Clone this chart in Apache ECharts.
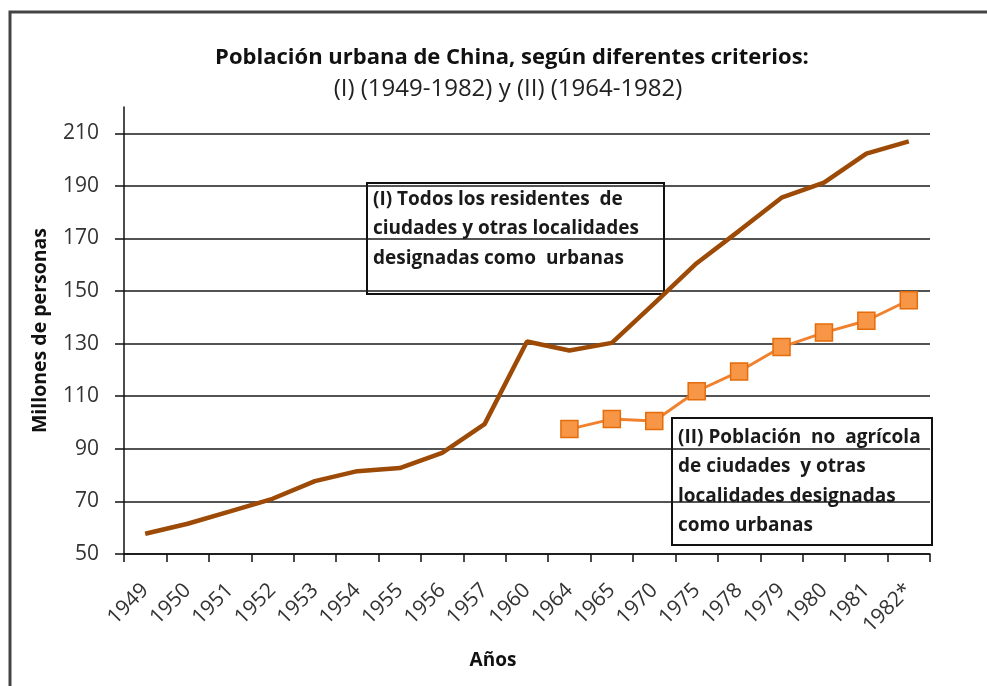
<!DOCTYPE html>
<html>
<head>
<meta charset="utf-8">
<script src="https://cdn.jsdelivr.net/npm/echarts@6/dist/echarts.min.js"></script>
<style>
html,body{margin:0;padding:0;background:#fff;}
#chart{width:987px;height:686px;}
</style>
</head>
<body>
<div id="chart"></div>
<script>
// años del eje x
var anios = ['1949','1950','1951','1952','1953','1954','1955','1956','1957','1960',
    '1964','1965','1970','1975','1978','1979','1980','1981','1982*'];
// (I) todos los residentes urbanos, millones
var serieI = [57.7, 61.5, 66.2, 71.0, 77.7, 81.5, 82.7, 88.5, 99.4, 130.8,
    127.4, 130.3, 145.3, 160.6, 172.9, 185.5, 191.2, 202.3, 206.9];
// (II) poblacion no agricola, desde 1964
var serieII = ['-','-','-','-','-','-','-','-','-','-',
    97.5, 101.3, 100.6, 111.9, 119.4, 128.7, 134.2, 138.7, 146.5];
// marcas del eje y
var marcasY = [50, 70, 90, 110, 130, 150, 170, 190, 210];

var textoI = ['(I) Todos los residentes  de', 'ciudades y otras localidades', 'designadas como  urbanas'];
var textoII = ['(II) Población  no  agrícola', 'de ciudades  y otras', 'localidades designadas', 'como urbanas'];

var fuente = 'Open Sans, Noto Sans, sans-serif';
var myChart = echarts.init(document.getElementById('chart'));

function caja(x, y, w, h, dy, lineas) {
    var hijos = [{
        type: 'rect',
        shape: {x: 0, y: 0, width: w, height: h},
        style: {fill: '#fff', stroke: '#111', lineWidth: 2}
    }];
    lineas.forEach(function (t, i) {
        hijos.push({
            type: 'text',
            x: 6, y: dy + i * 29.5,
            style: {text: t, fill: '#1a1a1a', font: 'bold 19px ' + fuente}
        });
    });
    return {type: 'group', x: x, y: y, z: 100, children: hijos};
}

var option = {
    backgroundColor: '#fff',
    animation: false,
    textStyle: {fontFamily: fuente},
    title: [
        {
            text: 'Población urbana de China, según diferentes criterios:',
            left: 507,
            textAlign: 'center',
            top: 42,
            textStyle: {fontSize: 22, fontWeight: 'bold', color: '#111', fontFamily: fuente}
        },
        {
            text: '(I) (1949-1982) y (II) (1964-1982)',
            left: 503,
            textAlign: 'center',
            top: 72,
            textStyle: {fontSize: 24, fontWeight: 'normal', color: '#222', fontFamily: fuente}
        }
    ],
    grid: {left: 124, right: 57, top: 107, bottom: 132},
    xAxis: {
        type: 'category',
        data: anios,
        boundaryGap: true,
        name: 'Años',
        nameLocation: 'middle',
        nameGap: 97,
        nameTextStyle: {fontSize: 19, fontWeight: 'bold', color: '#111', padding: [0, 68, 0, 0]},
        axisLine: {lineStyle: {color: '#111', width: 1.5}},
        axisTick: {show: true, length: 8, lineStyle: {color: '#111', width: 1.5}},
        axisLabel: {rotate: 45, fontSize: 21, color: '#333', margin: 33, interval: 0},
        splitLine: {show: false}
    },
    yAxis: {
        type: 'value',
        min: 50,
        max: 220,
        name: 'Millones de personas',
        nameLocation: 'middle',
        nameGap: 74,
        nameRotate: 90,
        nameTextStyle: {fontSize: 19.5, fontWeight: 'bold', color: '#111'},
        axisLine: {show: true, lineStyle: {color: '#111', width: 1.5}},
        axisTick: {show: true, length: 9, customValues: marcasY, lineStyle: {color: '#111', width: 1.5}},
        axisLabel: {fontSize: 21, color: '#333', margin: 25, customValues: marcasY},
        splitLine: {show: true, lineStyle: {color: '#1a1a1a', width: 1.5}}
    },
    series: [
        {
            name: '(I)',
            type: 'line',
            data: serieI,
            symbol: 'none',
            lineStyle: {color: '#9c4a06', width: 4.5},
            itemStyle: {color: '#9c4a06'},
            z: 3
        },
        {
            name: '(II)',
            type: 'line',
            data: serieII,
            symbol: 'rect',
            symbolSize: 17,
            lineStyle: {color: '#f0822f', width: 3},
            itemStyle: {color: '#f79646', borderColor: '#e46c0a', borderWidth: 1.5},
            z: 4
        }
    ],
    graphic: [
        {
            type: 'rect',
            shape: {x: 10, y: 12, width: 1000, height: 700},
            style: {fill: 'none', stroke: '#444', lineWidth: 3},
            z: -1
        },
        {
            type: 'text',
            x: 507, y: 4,
            style: {text: 'Gráfica 1', fill: '#999', font: 'bold 22px DejaVu Serif, serif',
                align: 'center', verticalAlign: 'bottom'}
        },
        caja(367, 183, 297, 111, 7, textoI),
        caja(672, 418, 260, 127, 10, textoII)
    ]
};

myChart.setOption(option);
</script>
</body>
</html>
